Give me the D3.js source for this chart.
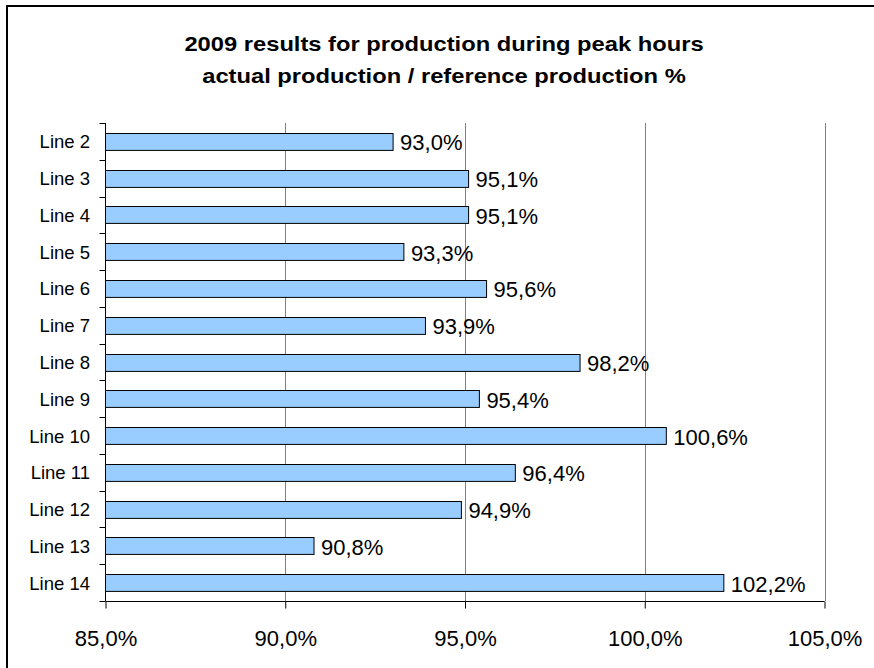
<!DOCTYPE html>
<html>
<head>
<meta charset="utf-8">
<script src="https://cdn.jsdelivr.net/npm/d3@7"></script>
<style>
  html, body { margin: 0; padding: 0; background: #fff; }
  svg { display: block; font-family: "Liberation Sans", Arial, sans-serif; }
</style>
</head>
<body>
<svg id="chart" width="874" height="668"></svg>
<script>
// Production lines and their peak-hour result (actual / reference, %)
const lines = ["Line 2", "Line 3", "Line 4", "Line 5", "Line 6", "Line 7", "Line 8",
               "Line 9", "Line 10", "Line 11", "Line 12", "Line 13", "Line 14"];
const results = [93.0, 95.1, 95.1, 93.3, 95.6, 93.9, 98.2, 95.4, 100.6, 96.4, 94.9, 90.8, 102.2];
const xTicks = [85, 90, 95, 100, 105];
const titleLines = ["2009 results for production during peak hours",
                    "actual production / reference production %"];

const svg = d3.select("#chart");
const W = 874, H = 668;
const plot = { left: 105.5, right: 824.5, top: 123, bottom: 601 };

const fmt = v => v.toFixed(1).replace(".", ",") + "%";

// outer frame (right and bottom edges run past the canvas)
svg.append("rect")
  .attr("x", 7).attr("y", 6)
  .attr("width", W + 10).attr("height", H + 10)
  .attr("fill", "#fff").attr("stroke", "#000").attr("stroke-width", 2);

// title, slightly widened
svg.append("g").selectAll("text").data(titleLines).join("text")
  .attr("transform", (d, i) => `translate(444,${51 + i * 32}) scale(1.13,1)`)
  .attr("text-anchor", "middle")
  .attr("font-weight", "bold").attr("font-size", 21)
  .attr("fill", "#000")
  .text(d => d);

const x = d3.scaleLinear().domain([85, 105]).range([plot.left, plot.right]);
const y = d3.scaleBand().domain(lines).range([plot.top, plot.bottom]).paddingInner(0.54).paddingOuter(0.27);
const yb = d3.scaleBand().domain(lines).range([plot.top, plot.bottom]);

// vertical gridlines
svg.append("g").selectAll("line").data(xTicks.slice(1)).join("line")
  .attr("x1", d => Math.round(x(d)) + 0.5).attr("x2", d => Math.round(x(d)) + 0.5)
  .attr("y1", plot.top).attr("y2", plot.bottom)
  .attr("stroke", "#808080").attr("stroke-width", 1);

// bars
svg.append("g").selectAll("rect").data(results).join("rect")
  .attr("x", x(85))
  .attr("y", (d, i) => Math.round(y(lines[i])) + 0.5)
  .attr("width", d => x(d) - x(85))
  .attr("height", y.bandwidth())
  .attr("fill", "#99ccff").attr("stroke", "#000").attr("stroke-width", 1);

// value labels
svg.append("g").selectAll("text").data(results).join("text")
  .attr("x", d => x(d) + 7)
  .attr("y", (d, i) => y(lines[i]) + y.bandwidth() / 2 + 9)
  .attr("font-size", 22).attr("fill", "#000")
  .text(d => fmt(d));

// y axis (category boundaries as ticks)
const yAxis = svg.append("g");
yAxis.append("line")
  .attr("x1", plot.left).attr("x2", plot.left)
  .attr("y1", plot.top).attr("y2", plot.bottom)
  .attr("stroke", "#000");
const bounds = lines.map(l => yb(l)).concat([plot.bottom]);
yAxis.selectAll("line.tick").data(bounds).join("line").attr("class", "tick")
  .attr("x1", plot.left - 6).attr("x2", plot.left)
  .attr("y1", d => Math.round(d) + 0.5).attr("y2", d => Math.round(d) + 0.5)
  .attr("stroke", "#000");
yAxis.selectAll("text").data(lines).join("text")
  .attr("x", 90).attr("y", d => yb(d) + yb.bandwidth() / 2 + 7)
  .attr("text-anchor", "end").attr("font-size", 18.5).attr("fill", "#000")
  .text(d => d);

// x axis
const xAxis = d3.axisBottom(x).tickValues(xTicks).tickSize(7).tickFormat(d => fmt(d));
const gx = svg.append("g").attr("transform", `translate(0,${plot.bottom + 0.5})`).call(xAxis);
gx.select(".domain").attr("stroke", "#000").attr("d", `M${plot.left},0H${plot.right}`);
gx.selectAll(".tick line").attr("stroke", "#000");
gx.selectAll(".tick text")
  .attr("y", 44).attr("dy", null).attr("font-size", 22).attr("fill", "#000")
  .attr("font-family", "Liberation Sans, Arial, sans-serif");
</script>
</body>
</html>
